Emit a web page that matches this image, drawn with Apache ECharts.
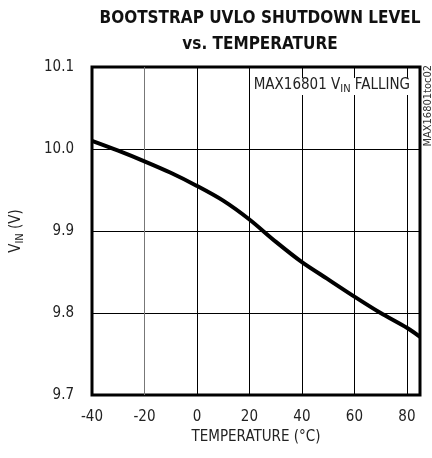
<!DOCTYPE html>
<html><head><meta charset="utf-8">
<script src="https://cdn.jsdelivr.net/npm/echarts@6/dist/echarts.min.js"></script>
<style>html,body{margin:0;padding:0;background:#fff}#c{width:432px;height:458px}</style>
</head><body><div id="c"></div>
<script>
const temps = [-40,-30,-20,-10,0,10,20,30,40,50,60,70,80,85];
const vin = [10.010,9.998,9.985,9.971,9.955,9.937,9.914,9.887,9.862,9.841,9.820,9.800,9.782,9.771];
const xTicks = [-40,-20,0,20,40,60,80];
const yTicks = [9.7,9.8,9.9,10.0,10.1];
const FN = '"DejaVu Sans Condensed","Liberation Sans Narrow",sans-serif';
const chart = echarts.init(document.getElementById('c'));
chart.setOption({
  animation:false,
  title:[
    {text:'BOOTSTRAP UVLO SHUTDOWN LEVEL\nvs. TEMPERATURE',left:255,top:1,textAlign:'center',
     textStyle:{fontFamily:FN,fontWeight:'bold',fontSize:17,lineHeight:26,color:'#111'}},
    {text:'MAX16801 V{s|IN} FALLING',right:20,top:76,backgroundColor:'#fff',padding:[0,2,0,2],
     textStyle:{fontFamily:FN,fontSize:15,color:'#222',fontWeight:'normal',
       rich:{s:{fontFamily:FN,fontSize:11,verticalAlign:'bottom',padding:[8,0,0,0],color:'#222'}}}}
  ],
  graphic:[{type:'text',x:428,y:65,rotation:Math.PI/2,style:{text:'MAX16801toc02',font:'11px '+FN,fill:'#333',align:'right',verticalAlign:'middle'}}],
  grid:{left:92,right:12,top:67,bottom:63,show:true,borderWidth:3,borderColor:'#000'},
  xAxis:{type:'value',min:-40,max:85,interval:20,
    name:'TEMPERATURE (°C)',nameLocation:'middle',nameGap:34,
    nameTextStyle:{fontFamily:FN,fontSize:15,color:'#222'},
    axisLine:{show:false},axisTick:{show:false},
    axisLabel:{fontFamily:FN,fontSize:15,color:'#222',margin:15,
      formatter:v=>xTicks.includes(v)?String(v):''},
    splitLine:{show:true,lineStyle:{width:1,color:['#000','#777','#000','#000','#000','#000','#000','#000']}}},
  yAxis:{type:'value',min:9.7,max:10.1,interval:0.1,
    name:'V{s|IN} (V)',nameLocation:'middle',nameGap:66,
    nameTextStyle:{fontFamily:FN,fontSize:15,color:'#222',
      rich:{s:{fontFamily:FN,fontSize:11,verticalAlign:'bottom',padding:[8,0,0,0],color:'#222'}}},
    axisLine:{show:false},axisTick:{show:false},
    axisLabel:{fontFamily:FN,fontSize:15,color:'#222',margin:18,
      formatter:v=>{const t=yTicks.find(k=>Math.abs(k-v)<1e-6);return t===undefined?'':t.toFixed(1);}},
    splitLine:{show:true,lineStyle:{width:1,color:'#000'}}},
  series:[{type:'line',data:temps.map((t,i)=>[t,vin[i]]),smooth:0.3,showSymbol:false,
    lineStyle:{width:4,color:'#000'},z:1}]
});
</script></body></html>
